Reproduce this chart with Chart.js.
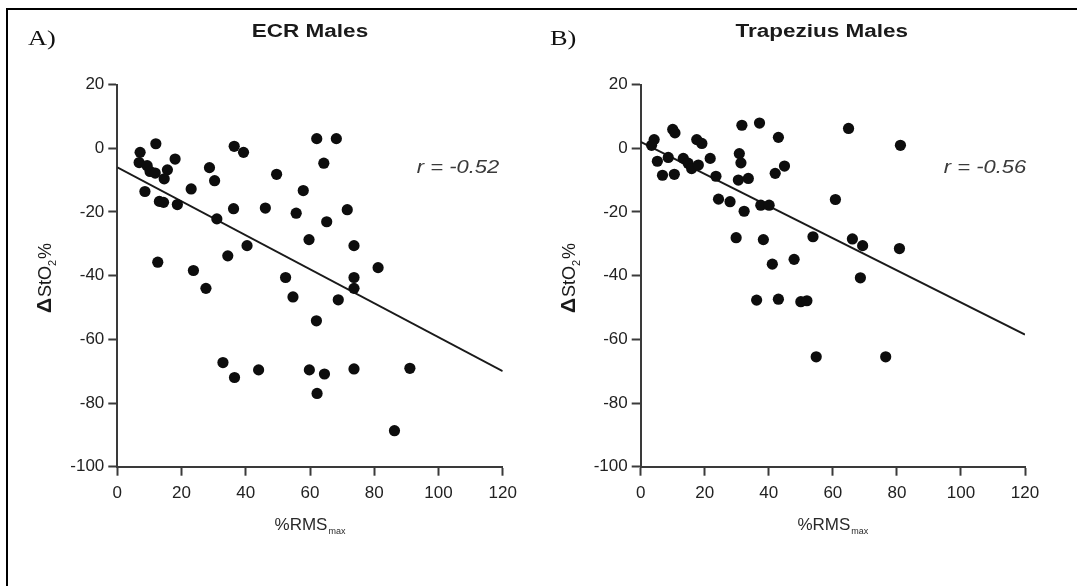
<!DOCTYPE html>
<html><head><meta charset="utf-8">
<script src="https://cdn.jsdelivr.net/npm/chart.js@4.4.1/dist/chart.umd.min.js"></script>
<style>
html,body{margin:0;padding:0;background:#fff;width:1077px;height:586px;overflow:hidden}
#frame{position:absolute;left:6px;top:8px;width:1090px;height:600px;border-left:2px solid #000;border-top:2px solid #000}
canvas{position:absolute;left:0;top:0}
</style></head><body>
<div id="frame"></div>
<canvas id="cA" width="1077" height="586"></canvas>
<canvas id="cB" width="1077" height="586"></canvas>
<script>
// ---- data ----
const xTickValues = [0, 20, 40, 60, 80, 100, 120];
const yTickValues = [-100, -80, -60, -40, -20, 0, 20];

const ecrRms = [12.0,7.1,6.8,9.3,10.2,11.8,15.6,14.6,18.0,8.6,13.1,14.4,18.7,23.0,28.7,30.3,36.4,39.3,49.6,57.9,36.2,46.1,55.7,31.0,59.7,40.4,34.4,12.6,23.7,52.4,62.1,68.2,64.3,71.6,65.2,73.7,81.2,73.7,27.6,73.7,54.7,68.8,62.0,32.9,36.5,44.0,59.8,64.5,62.2,73.7,91.1,86.3];
const ecrDelta = [1.4,-1.3,-4.5,-5.5,-7.3,-7.8,-6.8,-9.6,-3.4,-13.6,-16.7,-17.0,-17.7,-12.8,-6.1,-10.2,0.6,-1.3,-8.2,-13.3,-19.0,-18.8,-20.4,-22.2,-28.7,-30.6,-33.8,-35.8,-38.4,-40.6,3.0,3.0,-4.7,-19.3,-23.1,-30.6,-37.5,-40.6,-44.0,-44.0,-46.7,-47.6,-54.2,-67.3,-72.0,-69.6,-69.6,-70.9,-77.0,-69.3,-69.1,-88.7];
const ecrFitX = [0, 120];
const ecrFitY = [-6.0, -70.0];

const trapRms = [4.2,3.4,10.0,10.7,17.5,19.1,31.6,37.1,43.0,5.2,8.6,13.3,14.8,15.9,18.0,21.7,6.8,10.5,23.5,30.8,31.3,30.5,33.6,42.0,44.9,24.3,27.9,32.3,37.5,40.1,29.8,38.3,53.8,41.1,47.9,64.9,81.1,60.8,66.1,69.3,80.8,68.6,36.2,43.0,50.0,51.9,54.8,76.5];
const trapDelta = [2.7,0.9,5.9,4.8,2.7,1.5,7.2,7.9,3.4,-4.1,-2.9,-3.2,-4.7,-6.4,-5.3,-3.2,-8.5,-8.2,-8.8,-1.7,-4.6,-10.0,-9.5,-7.9,-5.6,-16.0,-16.8,-19.8,-17.9,-17.9,-28.1,-28.7,-27.8,-36.4,-34.9,6.2,0.9,-16.1,-28.5,-30.6,-31.5,-40.7,-47.7,-47.4,-48.2,-47.9,-65.5,-65.5];
const trapFitX = [0, 120];
const trapFitY = [2.0, -58.5];

const panelLetters = ['A)', 'B)'];
const panelTitles = ['ECR Males', 'Trapezius Males'];
const rLabels = ['r = -0.52', 'r = -0.56'];

// ---- helpers ----
function txt(c, s, x, y, font, align, sx, color) {
  c.save();
  c.font = font; c.fillStyle = color; c.textBaseline = 'alphabetic';
  const w = c.measureText(s).width * sx;
  let x0 = x;
  if (align === 'center') x0 = x - w / 2; else if (align === 'right') x0 = x - w;
  c.translate(x0, y); c.scale(sx, 1); c.textAlign = 'left';
  c.fillText(s, 0, 0);
  c.restore();
}

const decor = {
  id: 'decor',
  afterDraw(chart, args, o) {
    const c = chart.ctx;
    const area = chart.chartArea;
    const cx = (area.left + area.right) / 2;
    txt(c, o.letter, o.letterX, 45, '22px "Liberation Serif"', 'left', 1.2, '#111');
    txt(c, o.title, cx + o.titleDx, 37, 'bold 18px "Liberation Sans"', 'center', 1.25, '#1a1a1a');
    txt(c, o.r, o.rX, 173, 'italic 18px "Liberation Sans"', 'center', 1.22, '#3a3a3a');
    // x axis title with subscript
    c.save();
    c.font = '17px "Liberation Sans"';
    const w1 = c.measureText('%RMS').width;
    c.font = '9px "Liberation Sans"';
    const w2 = c.measureText('max').width;
    const tot = w1 + w2 + 1;
    const xs = cx - tot / 2;
    c.fillStyle = '#2a2a2a';
    c.font = '17px "Liberation Sans"';
    c.fillText('%RMS', xs, 530);
    c.font = '9px "Liberation Sans"';
    c.fillText('max', xs + w1 + 1, 534);
    c.restore();
    // y axis title, rotated
    c.save();
    c.translate(area.left - 66, 278);
    c.rotate(-Math.PI / 2);
    c.fillStyle = '#1a1a1a';
    c.font = 'bold 21px "Liberation Sans"';
    const a = c.measureText('\u0394').width;
    c.font = '18px "Liberation Sans"';
    const b = c.measureText('StO').width;
    c.font = '11px "Liberation Sans"';
    const d = c.measureText('2').width;
    c.font = '18px "Liberation Sans"';
    const e = c.measureText('%').width;
    const T = a + b + d + e + 2;
    let p = -T / 2;
    c.font = 'bold 21px "Liberation Sans"'; c.fillText('\u0394', p, 0); p += a + 1;
    c.font = '18px "Liberation Sans"'; c.fillText('StO', p, 0); p += b;
    c.font = '11px "Liberation Sans"'; c.fillText('2', p, 5); p += d + 1;
    c.font = '18px "Liberation Sans"'; c.fillText('%', p, 0);
    c.restore();
  }
};

function makeChart(id, xs, ys, fx, fy, left, right, letterX, letter, title, titleDx, r, rX) {
  const pts = xs.map((x, i) => ({ x: x, y: ys[i] }));
  const line = fx.map((x, i) => ({ x: x, y: fy[i] }));
  const axisCommon = {
    type: 'linear',
    grid: { display: true, drawOnChartArea: false, drawTicks: true, tickLength: 9, tickWidth: 2, tickColor: '#3a3a3a', color: '#3a3a3a' },
    border: { display: true, color: '#3a3a3a', width: 2 },
    ticks: { color: '#222', font: { family: '"Liberation Sans"', size: 17 }, stepSize: 20, autoSkip: false, maxRotation: 0 }
  };
  return new Chart(document.getElementById(id), {
    type: 'scatter',
    data: {
      datasets: [
        { type: 'line', data: line, borderColor: '#1a1a1a', borderWidth: 2, pointRadius: 0, fill: false, order: 2 },
        { data: pts, backgroundColor: '#0d0d0d', borderWidth: 0, pointRadius: 5.6, pointHoverRadius: 5.6, order: 1 }
      ]
    },
    options: {
      responsive: false, animation: false, devicePixelRatio: 1,
      events: [],
      layout: { padding: { left: left - 70, right: 1077 - right, top: 84.5, bottom: 586 - 466.7 - 60 } },
      plugins: {
        legend: { display: false }, tooltip: { enabled: false },
        decor: { letter: letter, letterX: letterX, title: title, titleDx: titleDx, r: r, rX: rX }
      },
      scales: {
        x: Object.assign({}, axisCommon, {
          min: 0, max: 120, position: 'bottom',
          ticks: Object.assign({}, axisCommon.ticks, { padding: 7 }),
          afterBuildTicks: s => { s.ticks = xTickValues.map(v => ({ value: v })); },
          afterFit: s => { s.height = 60; }
        }),
        y: Object.assign({}, axisCommon, {
          min: -100, max: 20, position: 'left',
          ticks: Object.assign({}, axisCommon.ticks, { padding: 4 }),
          afterBuildTicks: s => { s.ticks = yTickValues.map(v => ({ value: v })); },
          afterFit: s => { s.width = 70; }
        })
      }
    },
    plugins: [decor]
  });
}

makeChart('cA', ecrRms, ecrDelta, ecrFitX, ecrFitY, 117.3, 502.7, 28, panelLetters[0], panelTitles[0], 0, rLabels[0], 458);
makeChart('cB', trapRms, trapDelta, trapFitX, trapFitY, 640.7, 1025, 550, panelLetters[1], panelTitles[1], -11, rLabels[1], 985);
</script>
</body></html>
